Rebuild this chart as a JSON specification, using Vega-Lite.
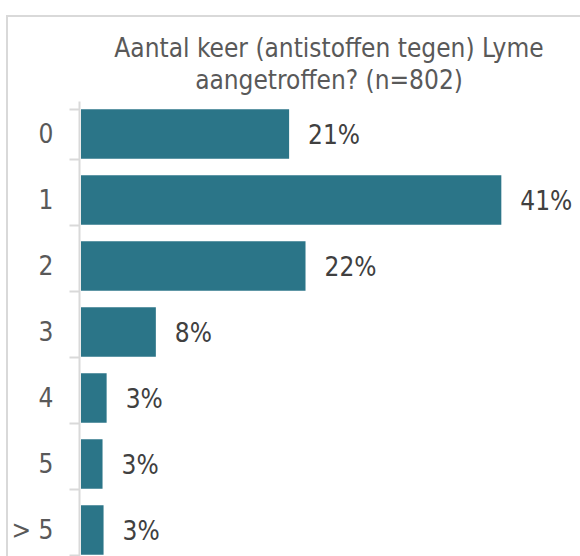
{
  "$schema": "https://vega.github.io/schema/vega-lite/v6.json",
  "autosize": "none",
  "padding": {"left": 7, "top": 16, "right": 0, "bottom": 0},
  "width": 644,
  "height": 600,
  "background": "white",
  "title": {
    "text": ["Aantal keer (antistoffen tegen) Lyme", "aangetroffen? (n=802)"],
    "frame": "group",
    "anchor": "middle",
    "orient": "top",
    "baseline": "alphabetic",
    "offset": -112,
    "lineHeight": 32,
    "font": "DejaVu Sans Condensed",
    "fontSize": 26,
    "fontWeight": "normal",
    "color": "#595959"
  },
  "data": {
    "values": [
      {"aantal": "0", "pct": 20.3, "label": "21%"},
      {"aantal": "1", "pct": 41.0, "label": "41%"},
      {"aantal": "2", "pct": 21.9, "label": "22%"},
      {"aantal": "3", "pct": 7.3, "label": "8%"},
      {"aantal": "4", "pct": 2.5, "label": "3%"},
      {"aantal": "5", "pct": 2.1, "label": "3%"},
      {"aantal": "> 5", "pct": 2.2, "label": "3%"}
    ]
  },
  "encoding": {
    "y": {
      "field": "aantal",
      "type": "nominal",
      "sort": null,
      "title": null,
      "scale": {"range": [85, 547], "paddingInner": 0.25, "paddingOuter": 0.125},
      "axis": {
        "orient": "left",
        "offset": -72,
        "tickBand": "extent",
        "domainColor": "#d9d9d9",
        "domainWidth": 2,
        "tickColor": "#d9d9d9",
        "tickWidth": 2,
        "tickSize": 10,
        "labelPadding": 16,
        "labelFont": "DejaVu Sans Condensed",
        "labelFontSize": 26,
        "labelColor": "#595959",
        "grid": false
      }
    },
    "x": {
      "field": "pct",
      "type": "quantitative",
      "scale": {"domain": [-7.219, 55.6], "nice": false, "zero": false},
      "axis": null
    }
  },
  "layer": [
    {
      "mark": {"type": "bar", "color": "#2b7588"},
      "encoding": {"x2": {"datum": 0}}
    },
    {
      "mark": {
        "type": "text",
        "align": "left",
        "baseline": "middle",
        "dx": 19,
        "dy": 2,
        "font": "DejaVu Sans Condensed",
        "fontSize": 26,
        "color": "#404040"
      },
      "encoding": {"text": {"field": "label"}}
    }
  ],
  "config": {
    "view": {"stroke": "#d9d9d9", "strokeWidth": 2}
  }
}
